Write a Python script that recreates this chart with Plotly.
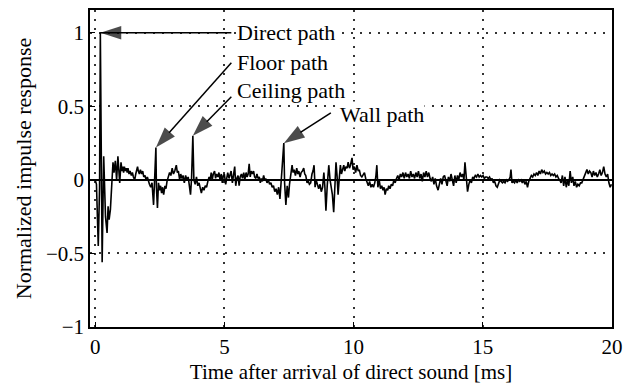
import plotly.graph_objects as go

# ---------------- data ----------------
time_ms = [
    -0.20, 0.00, 0.05, 0.12, 0.17, 0.20, 0.27, 0.33, 0.40, 0.46,
    0.50, 0.54, 0.59, 0.65, 0.69, 0.73, 0.78, 0.83, 0.88, 0.95,
    1.00, 1.04, 1.07, 1.10, 1.13, 1.17, 1.20, 1.24, 1.27, 1.31,
    1.35, 1.40, 1.44, 1.48, 1.53, 1.57, 1.60, 1.64, 1.67, 1.71,
    1.75, 1.80, 1.84, 1.88, 1.93, 1.97, 2.02, 2.06, 2.10, 2.15,
    2.20, 2.26, 2.30, 2.35, 2.37, 2.41, 2.45, 2.49, 2.53, 2.57,
    2.61, 2.65, 2.70, 2.74, 2.78, 2.83, 2.88, 2.93, 2.98, 3.03,
    3.08, 3.14, 3.18, 3.22, 3.27, 3.31, 3.36, 3.40, 3.45, 3.50,
    3.55, 3.60, 3.64, 3.69, 3.73, 3.78, 3.82, 3.87, 3.92, 3.97,
    4.02, 4.07, 4.11, 4.16, 4.21, 4.26, 4.31, 4.36, 4.41, 4.45,
    4.49, 4.53, 4.57, 4.62, 4.66, 4.70, 4.75, 4.79, 4.83, 4.88,
    4.92, 4.96, 5.00, 5.05, 5.09, 5.13, 5.18, 5.22, 5.26, 5.31,
    5.35, 5.40, 5.44, 5.48, 5.53, 5.57, 5.61, 5.66, 5.70, 5.75,
    5.79, 5.84, 5.88, 5.92, 5.96, 6.00, 6.04, 6.09, 6.13, 6.17,
    6.22, 6.26, 6.30, 6.35, 6.39, 6.43, 6.47, 6.52, 6.56, 6.60,
    6.65, 6.70, 6.75, 6.80, 6.85, 6.90, 6.95, 7.00, 7.05, 7.10,
    7.15, 7.20, 7.30, 7.33, 7.38, 7.43, 7.48, 7.52, 7.57, 7.62,
    7.66, 7.70, 7.75, 7.80, 7.84, 7.88, 7.93, 7.97, 8.02, 8.07,
    8.11, 8.15, 8.20, 8.25, 8.29, 8.34, 8.39, 8.43, 8.47, 8.51,
    8.55, 8.60, 8.65, 8.70, 8.75, 8.80, 8.85, 8.89, 8.93, 8.98,
    9.04, 9.09, 9.13, 9.18, 9.23, 9.28, 9.32, 9.36, 9.40, 9.45,
    9.49, 9.53, 9.57, 9.62, 9.66, 9.70, 9.75, 9.79, 9.84, 9.88,
    9.94, 9.98, 10.03, 10.08, 10.13, 10.18, 10.22, 10.27, 10.32, 10.37,
    10.42, 10.47, 10.52, 10.57, 10.62, 10.67, 10.72, 10.77, 10.82, 10.86,
    10.90, 10.94, 10.99, 11.04, 11.09, 11.14, 11.18, 11.22, 11.27, 11.32,
    11.36, 11.41, 11.46, 11.51, 11.56, 11.61, 11.66, 11.71, 11.76, 11.81,
    11.86, 11.91, 11.96, 12.01, 12.06, 12.11, 12.16, 12.21, 12.26, 12.31,
    12.36, 12.41, 12.46, 12.51, 12.56, 12.61, 12.66, 12.71, 12.76, 12.81,
    12.86, 12.91, 12.96, 13.01, 13.06, 13.11, 13.16, 13.21, 13.27, 13.32,
    13.37, 13.42, 13.47, 13.52, 13.57, 13.62, 13.67, 13.72, 13.77, 13.82,
    13.87, 13.92, 13.97, 14.02, 14.07, 14.12, 14.17, 14.22, 14.27, 14.31,
    14.36, 14.41, 14.46, 14.51, 14.56, 14.61, 14.66, 14.71, 14.76, 14.81,
    14.86, 14.91, 14.96, 15.01, 15.06, 15.11, 15.16, 15.21, 15.26, 15.31,
    15.36, 15.41, 15.46, 15.51, 15.56, 15.61, 15.66, 15.71, 15.76, 15.81,
    15.86, 15.91, 15.96, 16.01, 16.06, 16.09, 16.13, 16.18, 16.23, 16.28,
    16.33, 16.38, 16.43, 16.48, 16.53, 16.58, 16.63, 16.68, 16.73, 16.78,
    16.83, 16.88, 16.93, 16.98, 17.03, 17.08, 17.13, 17.18, 17.23, 17.28,
    17.33, 17.38, 17.43, 17.48, 17.53, 17.58, 17.63, 17.68, 17.73, 17.78,
    17.83, 17.88, 17.93, 17.98, 18.03, 18.08, 18.13, 18.18, 18.23, 18.28,
    18.33, 18.38, 18.43, 18.48, 18.53, 18.58, 18.63, 18.68, 18.73, 18.78,
    18.83, 18.88, 18.93, 18.98, 19.03, 19.08, 19.13, 19.18, 19.23, 19.28,
    19.33, 19.38, 19.43, 19.48, 19.53, 19.58, 19.63, 19.68, 19.73, 19.78,
    19.83, 19.88, 19.93, 19.98,
]

response = [
    0.00, 0.00, -0.03, -0.45, -0.05, 1.00, -0.56, 0.16, -0.25, -0.36,
    -0.18, -0.27, -0.20, 0.00, 0.12, 0.05, 0.13, 0.00, 0.16, -0.02,
    0.12, 0.06, 0.09, 0.05, 0.09, 0.06, 0.08, 0.05, 0.08, 0.04,
    0.06, 0.03, 0.05, 0.02, 0.00, 0.04, 0.07, 0.09, 0.06, 0.04,
    0.07, 0.04, 0.06, 0.02, 0.03, 0.00, 0.02, -0.01, -0.03, -0.05,
    -0.02, -0.17, -0.03, 0.22, -0.05, -0.19, -0.02, -0.07, -0.04, -0.09,
    -0.05, -0.10, -0.04, -0.06, -0.01, 0.02, 0.05, 0.03, 0.08, 0.04,
    0.06, 0.10, 0.05, 0.06, 0.00, 0.04, 0.01, 0.03, -0.02, 0.03,
    0.00, 0.02, -0.03, -0.10, 0.01, 0.30, 0.00, -0.03, 0.02, -0.04,
    -0.02, -0.07, -0.09, -0.05, -0.07, -0.04, -0.05, -0.01, 0.02, 0.00,
    0.05, 0.00, 0.04, 0.06, 0.01, 0.04, 0.02, 0.05, 0.00, 0.04,
    -0.02, 0.03, 0.04, -0.03, 0.02, 0.05, 0.01, 0.03, 0.06, -0.02,
    0.03, 0.09, -0.04, 0.01, 0.03, -0.04, 0.02, 0.04, 0.01, 0.05,
    0.00, 0.05, 0.02, 0.04, 0.11, 0.02, 0.06, 0.04, 0.06, 0.02,
    0.01, 0.04, 0.01, 0.02, -0.02, 0.01, -0.01, 0.03, 0.00, 0.01,
    -0.02, 0.00, -0.03, -0.02, -0.05, -0.04, -0.08, -0.06, -0.10, -0.05,
    -0.13, -0.02, 0.25, -0.02, -0.17, -0.04, -0.12, -0.03, 0.05, 0.10,
    0.05, 0.07, 0.03, 0.08, 0.04, 0.06, 0.02, 0.05, 0.06, 0.08,
    0.04, 0.03, -0.02, -0.01, -0.03, -0.02, 0.04, 0.06, 0.10, -0.05,
    0.00, -0.04, -0.06, -0.03, -0.08, -0.05, 0.05, -0.05, -0.21, -0.04,
    0.10, 0.00, -0.06, -0.10, -0.22, 0.02, 0.12, 0.03, -0.10, 0.02,
    0.10, 0.04, 0.07, 0.10, 0.06, 0.09, 0.08, 0.12, 0.08, 0.10,
    0.15, 0.07, 0.09, 0.05, 0.10, 0.06, 0.07, 0.03, 0.02, 0.04,
    0.05, 0.01, -0.02, -0.04, -0.01, -0.05, -0.03, -0.05, -0.02, 0.02,
    0.10, -0.05, 0.00, -0.06, -0.04, -0.07, -0.05, -0.10, -0.06, -0.07,
    -0.04, -0.06, -0.03, -0.04, 0.00, -0.02, 0.01, 0.03, 0.00, 0.04,
    0.02, 0.05, 0.01, 0.05, 0.02, 0.04, 0.01, 0.06, 0.02, 0.04,
    0.01, 0.05, 0.02, 0.06, 0.01, 0.04, -0.01, 0.05, 0.02, 0.06,
    0.02, 0.05, 0.01, -0.01, 0.02, -0.03, 0.01, -0.04, -0.07, -0.02,
    0.01, -0.03, 0.02, 0.03, -0.01, -0.04, 0.02, -0.01, 0.04, 0.00,
    -0.04, 0.03, -0.02, 0.03, 0.00, 0.05, 0.02, 0.04, 0.00, 0.12,
    0.00, -0.08, -0.03, 0.00, -0.02, 0.02, 0.01, 0.03, 0.02, 0.04,
    0.02, 0.03, 0.02, 0.03, 0.01, 0.02, 0.02, 0.01, 0.02, 0.00,
    0.01, -0.02, -0.01, -0.04, -0.05, -0.02, 0.00, -0.01, -0.02, -0.01,
    -0.02, 0.00, -0.01, 0.00, 0.02, 0.07, -0.02, -0.01, -0.02, 0.00,
    -0.02, 0.00, -0.01, 0.00, -0.02, 0.00, -0.03, -0.01, -0.05, -0.01,
    0.01, 0.03, 0.02, 0.04, 0.03, 0.05, 0.03, 0.06, 0.04, 0.07,
    0.05, 0.06, 0.04, 0.05, 0.04, 0.05, 0.03, 0.04, 0.03, 0.04,
    0.02, 0.03, 0.01, 0.00, -0.02, 0.03, -0.04, 0.02, -0.05, 0.00,
    -0.04, 0.06, -0.02, 0.02, -0.04, -0.01, -0.05, -0.03, -0.04, -0.02,
    -0.02, 0.00, 0.03, 0.05, 0.07, 0.04, 0.06, 0.05, 0.02, 0.06,
    0.03, 0.05, 0.02, 0.04, 0.07, 0.03, 0.05, 0.09, 0.04, 0.02,
    0.04, -0.02, -0.05, -0.03,
]
assert len(time_ms) == len(response), (len(time_ms), len(response))

# labelled reflections: (label, search window in ms, label anchor, arrow tail)
path_labels = ["Direct path", "Floor path", "Ceiling path", "Wall path"]
path_windows = [(0.0, 1.0), (2.0, 3.0), (3.5, 4.2), (7.0, 7.6)]
label_pos = [(5.46, 1.0), (5.46, 0.80), (5.46, 0.61), (9.42, 0.445)]
tail_pos = [(5.27, 1.0), (5.27, 0.796), (5.27, 0.565), (9.12, 0.456)]

x_ticks = [0, 5, 10, 15, 20]
y_ticks = [-1, -0.5, 0, 0.5, 1]

FONT = "Liberation Serif"

fig = go.Figure()
fig.add_trace(go.Scatter(
    x=time_ms, y=response, mode="lines",
    line=dict(color="black", width=1.6), showlegend=False, hoverinfo="skip",
))

# arrows: line from tail to the peak, with an arrow head marker oriented along it
for lab, (lo, hi), (lx, ly), (tx, ty) in zip(path_labels, path_windows, label_pos, tail_pos):
    idx = [i for i, t in enumerate(time_ms) if lo <= t <= hi]
    ip = max(idx, key=lambda i: response[i])
    px, py = time_ms[ip], response[ip]
    fig.add_trace(go.Scatter(
        x=[tx, px], y=[ty, py], mode="lines+markers",
        line=dict(color="black", width=1.5),
        marker=dict(symbol="arrow", size=[0, 22], angleref="previous",
                    color="black", line=dict(width=0)),
        showlegend=False, hoverinfo="skip", cliponaxis=False,
    ))
    fig.add_annotation(
        x=lx, y=ly, xref="x", yref="y", text=lab, showarrow=False,
        xanchor="left", yanchor="middle", bgcolor="white", borderpad=0,
        font=dict(family=FONT, size=22, color="black"),
    )

grid_dash = "2px,7px"
fig.update_layout(
    width=623, height=387,
    margin=dict(l=90, r=11, t=10, b=60, autoexpand=False),
    paper_bgcolor="white", plot_bgcolor="white",
    font=dict(family=FONT, size=21, color="black"),
    xaxis=dict(
        range=[-0.2, 20], tickvals=x_ticks, ticks="inside", ticklen=5,
        tickcolor="black", showline=True, linecolor="black", linewidth=1.5,
        mirror=True, showgrid=True, gridcolor="#333", griddash=grid_dash,
        gridwidth=1.5, zeroline=False, automargin=False,
        ticklabeloverflow="allow",
        title=dict(text="Time after arrival of direct sound [ms]", standoff=6,
                   font=dict(family=FONT, size=21)),
        tickfont=dict(family=FONT, size=21),
    ),
    yaxis=dict(
        range=[-1, 1.155], tickvals=y_ticks, ticks="inside", ticklen=5,
        tickcolor="black", showline=True, linecolor="black", linewidth=1.5,
        mirror=True, showgrid=True, gridcolor="#333", griddash=grid_dash,
        gridwidth=1.5, zeroline=True, zerolinecolor="black", zerolinewidth=1.5,
        automargin=False, ticklabeloverflow="allow",
        title=dict(text="Normalized impulse response", standoff=8,
                   font=dict(family=FONT, size=22)),
        tickfont=dict(family=FONT, size=21),
    ),
)

fig.write_html("out.html")
